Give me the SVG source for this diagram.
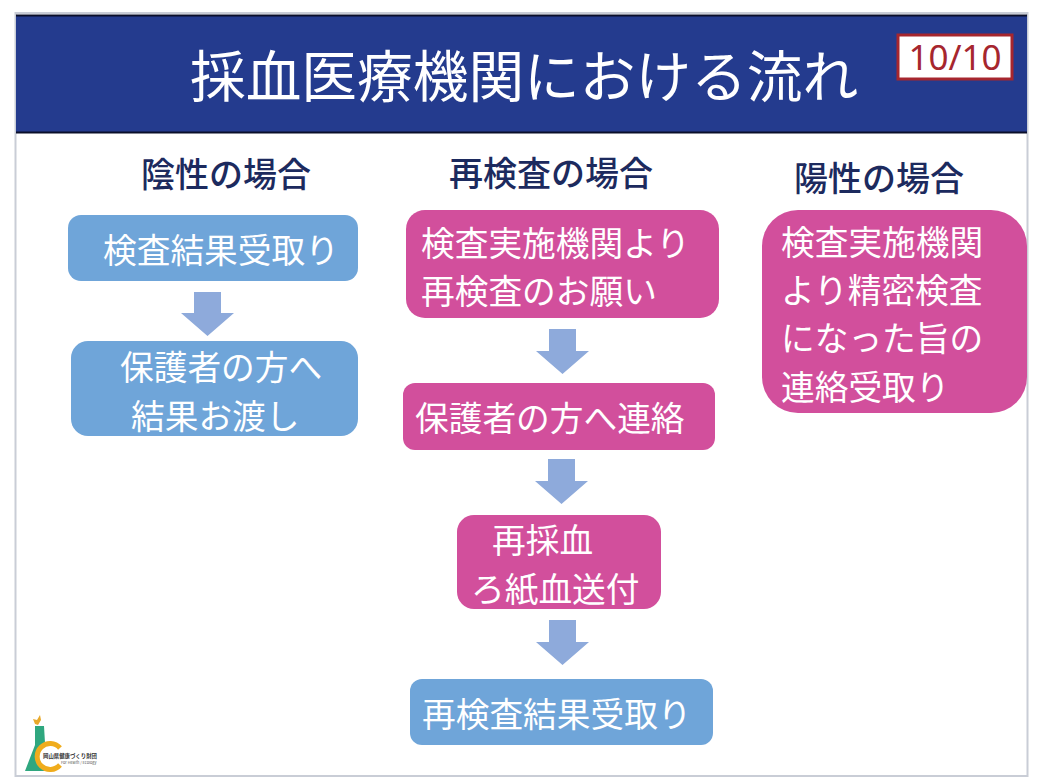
<svg xmlns="http://www.w3.org/2000/svg" width="1043" height="783" viewBox="0 0 1043 783">
<style>
text{font-family:"Noto Sans CJK JP","Noto Sans",sans-serif}
.t{font-size:33.700px;fill:#fff}
.h{font-size:34px;fill:#1c2a5e;font-weight:500}
.b{fill:#6fa5d9}
.p{fill:#d24f9c}
.a{fill:#8eaadb}
</style>
<rect width="1043" height="783" fill="#fff"/>
<rect x="15.500" y="13" width="1012" height="763" fill="#fff" stroke="#c9cdd6" stroke-width="2"/>
<rect x="16" y="15.500" width="1011" height="117" fill="#243b8e"/>
<path d="M16 15.500H1027M16 132.500H1027" stroke="#0a0f2a" stroke-width="2" fill="none"/>
<text x="190" y="97" font-size="55.700" fill="#fff">採血医療機関における流れ</text>
<g id="page">
<rect x="898" y="35" width="114" height="44" fill="#fff" stroke="#a6262e" stroke-width="3"/>
<text x="955" y="70" font-size="35" fill="#a6262e" text-anchor="middle" style="font-family:'Noto Sans',sans-serif">10/10</text>
</g>
<text class="h" x="141" y="187">陰性の場合</text>
<text class="h" x="449" y="186">再検査の場合</text>
<text class="h" x="794" y="191">陽性の場合</text>
<g id="connectors">
<polygon class="a" points="194,292 221,292 221,313 234,313 207.500,336 181,313 194,313"/>
<polygon class="a" points="549,329 576,329 576,351 589,351 562.500,374 536,351 549,351"/>
<polygon class="a" points="548,459 575,459 575,481 588,481 561.500,504 535,481 548,481"/>
<polygon class="a" points="549,620 576,620 576,642 589,642 562.500,665 536,642 549,642"/>
</g>
<g id="n1"><rect class="b" x="68" y="215" width="290" height="66" rx="13"/><text class="t" x="103" y="263">検査結果受取り</text></g>
<g id="n2"><rect class="b" x="71" y="341" width="287" height="95" rx="17"/><text class="t" x="120" y="380">保護者の方へ</text><text class="t" x="131" y="429">結果お渡し</text></g>
<g id="n3"><rect class="p" x="406" y="210" width="313" height="108" rx="19"/><text class="t" x="421" y="256">検査実施機関より</text><text class="t" x="421" y="304">再検査のお願い</text></g>
<g id="n4"><rect class="p" x="403" y="383" width="312" height="67" rx="12"/><text class="t" x="415" y="431">保護者の方へ連絡</text></g>
<g id="n5"><rect class="p" x="457" y="515" width="204" height="94" rx="17"/><text class="t" x="492" y="553">再採血</text><text class="t" x="471" y="602">ろ紙血送付</text></g>
<g id="n6"><rect class="b" x="410" y="679" width="303" height="66" rx="12"/><text class="t" x="422" y="727">再検査結果受取り</text></g>
<g id="n7"><rect class="p" x="762" y="210" width="265" height="203" rx="36"/><text class="t" x="781" y="255">検査実施機関</text><text class="t" x="781" y="303">より精密検査</text><text class="t" x="781" y="351">になった旨の</text><text class="t" x="781" y="400">連絡受取り</text></g>
<g id="logo">
<path d="M35 726H44L45 743C41 747 39 752 39 757C39 762 41 768 45 771H25L35 745Z" fill="#2fa77f"/>
<path d="M33 719L37 720L40 715L41 720L38 725L35 724Z" fill="#e8a92a"/>
<path d="M60 748A13 13 0 1 0 60 765" fill="none" stroke="#f0ac1c" stroke-width="5"/>
<rect x="43" y="752" width="54" height="7" fill="#fff"/>
<text x="43" y="758" font-size="5.400" font-weight="700" fill="#333">岡山県健康づくり財団</text>
<text x="61" y="764" font-size="3.800" fill="#555">For Health / Ecology</text>
</g>
</svg>
